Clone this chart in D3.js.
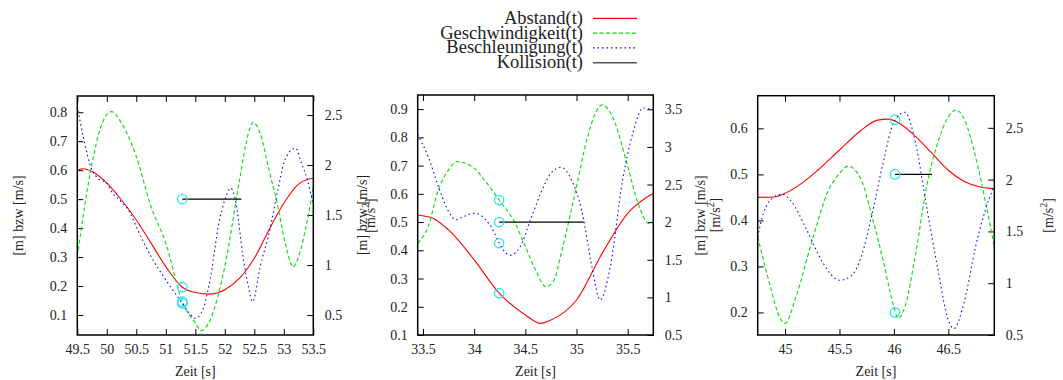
<!DOCTYPE html>
<html><head><meta charset="utf-8">
<script src="https://cdn.jsdelivr.net/npm/d3@7"></script>
<style>
body{margin:0;background:#fff}
svg text{font-family:'Liberation Serif','Times New Roman',serif;fill:#222}
</style></head><body>
<svg id="c" width="1063" height="380"></svg>
<script>
// ---------- data ----------
const seriesNames = ["Abstand(t)","Geschwindigkeit(t)","Beschleunigung(t)","Kollision(t)"];
const xLabel = "Zeit [s]";
const yLabel = "[m] bzw [m/s]";

// panel 1
const p1XTicks = [49.5,50,50.5,51,51.5,52,52.5,53,53.5];
const p1YTicks = [0.1,0.2,0.3,0.4,0.5,0.6,0.7,0.8];
const p1Y2Ticks = [0.5,1,1.5,2,2.5];
const p1Abstand = [[49.5,0.6],[49.6,0.605],[49.75,0.595],[50,0.555],[50.25,0.497],[50.5,0.428],[50.75,0.348],[51,0.267],[51.28,0.196],[51.5,0.178],[51.75,0.172],[52,0.187],[52.25,0.227],[52.5,0.296],[52.75,0.394],[53,0.486],[53.25,0.552],[53.4,0.568],[53.5,0.571]];
const p1Geschw = [[49.5,0.302],[49.75,0.624],[49.9,0.75],[50.08,0.802],[50.25,0.762],[50.5,0.647],[50.75,0.474],[51,0.348],[51.28,0.146],[51.5,0.072],[51.6,0.046],[51.75,0.083],[52,0.267],[52.25,0.566],[52.4,0.727],[52.48,0.765],[52.6,0.727],[52.75,0.6],[52.9,0.474],[53,0.37],[53.1,0.29],[53.15,0.265],[53.25,0.302],[53.4,0.428],[53.5,0.543]];
const p1Beschl = [[49.5,0.82],[49.6,0.716],[49.75,0.6],[49.85,0.572],[50,0.555],[50.1,0.52],[50.25,0.49],[50.4,0.45],[50.5,0.405],[50.75,0.302],[51,0.221],[51.28,0.14],[51.4,0.106],[51.5,0.089],[51.6,0.106],[51.75,0.221],[51.9,0.417],[52,0.497],[52.1,0.538],[52.2,0.474],[52.3,0.314],[52.4,0.198],[52.47,0.146],[52.6,0.267],[52.75,0.382],[52.9,0.532],[53,0.624],[53.1,0.664],[53.2,0.676],[53.3,0.624],[53.4,0.566],[53.5,0.48]];
const p1Kollision = [[51.28,0.5],[52.28,0.5]];
const p1Hits = [[51.28,0.5],[51.28,0.196],[51.28,0.146],[51.28,0.14]];

// panel 2
const p2XTicks = [33.5,34,34.5,35,35.5];
const p2YTicks = [0.1,0.2,0.3,0.4,0.5,0.6,0.7,0.8,0.9];
const p2Y2Ticks = [0.5,1,1.5,2,2.5,3,3.5];
const p2Abstand = [[33.448,0.525],[33.6,0.513],[33.75,0.472],[34,0.366],[34.244,0.248],[34.5,0.171],[34.65,0.141],[34.75,0.153],[35,0.224],[35.25,0.389],[35.5,0.531],[35.75,0.602]];
const p2Geschw = [[33.448,0.425],[33.55,0.484],[33.65,0.614],[33.75,0.685],[33.83,0.714],[34,0.691],[34.1,0.649],[34.244,0.578],[34.4,0.496],[34.5,0.413],[34.6,0.33],[34.7,0.271],[34.78,0.295],[34.85,0.389],[35,0.626],[35.1,0.791],[35.25,0.915],[35.35,0.874],[35.5,0.697],[35.6,0.567],[35.7,0.496],[35.75,0.494]];
const p2Beschl = [[33.448,0.809],[33.55,0.732],[33.65,0.626],[33.75,0.537],[33.82,0.508],[33.9,0.52],[34,0.531],[34.1,0.513],[34.2,0.46],[34.244,0.425],[34.35,0.383],[34.45,0.413],[34.55,0.508],[34.65,0.602],[34.75,0.673],[34.85,0.694],[34.95,0.649],[35.05,0.543],[35.15,0.342],[35.23,0.224],[35.33,0.342],[35.45,0.649],[35.55,0.815],[35.65,0.904],[35.75,0.898]];
const p2Kollision = [[34.244,0.5],[35.07,0.5]];
const p2Hits = [[34.244,0.578],[34.244,0.5],[34.244,0.425],[34.244,0.248]];

// panel 3
const p3XTicks = [45,45.5,46,46.5];
const p3YTicks = [0.2,0.3,0.4,0.5,0.6];
const p3Y2Ticks = [0.5,1,1.5,2,2.5];
const p3Abstand = [[44.749,0.45],[44.9,0.451],[45,0.459],[45.15,0.48],[45.3,0.509],[45.5,0.553],[45.7,0.596],[45.85,0.618],[45.95,0.62],[46.05,0.611],[46.2,0.582],[46.35,0.546],[46.5,0.509],[46.65,0.484],[46.8,0.472],[46.922,0.469]];
const p3Geschw = [[44.749,0.364],[44.85,0.27],[44.95,0.19],[45,0.176],[45.1,0.234],[45.25,0.357],[45.4,0.466],[45.5,0.502],[45.58,0.518],[45.7,0.488],[45.8,0.408],[45.9,0.314],[46,0.212],[46.04,0.187],[46.1,0.212],[46.2,0.328],[46.3,0.473],[46.4,0.567],[46.5,0.625],[46.57,0.64],[46.65,0.618],[46.75,0.538],[46.85,0.43],[46.922,0.343]];
const p3Beschl = [[44.749,0.364],[44.8,0.415],[44.9,0.451],[44.97,0.457],[45.05,0.444],[45.2,0.379],[45.35,0.307],[45.5,0.27],[45.6,0.278],[45.7,0.321],[45.8,0.415],[45.9,0.524],[46,0.614],[46.1,0.635],[46.2,0.567],[46.3,0.43],[46.4,0.299],[46.5,0.183],[46.55,0.165],[46.65,0.227],[46.75,0.343],[46.85,0.43],[46.922,0.475]];
const p3Kollision = [[46.01,0.5],[46.35,0.5]];
const p3Hits = [[46.01,0.619],[46.01,0.5],[46.01,0.2]];

// ---------- layout ----------
const panels = [
  {x0:77.3,x1:313.3,top:96,bottom:335,xd:[49.5,53.5],yd:[0.031,0.856],y2d:[0.3,2.69],xt:p1XTicks,yt:p1YTicks,y2t:p1Y2Ticks,
   s:[p1Abstand,p1Geschw,p1Beschl,p1Kollision],hits:p1Hits,ylx:18,y2lx:372},
  {x0:417.7,x1:653.3,top:95,bottom:335,xd:[33.448,35.75],yd:[0.1,0.95],y2d:[0.5,3.69],xt:p2XTicks,yt:p2YTicks,y2t:p2Y2Ticks,
   s:[p2Abstand,p2Geschw,p2Beschl,p2Kollision],hits:p2Hits,ylx:362,y2lx:717},
  {x0:757.7,x1:994.3,top:95.7,bottom:335,xd:[44.749,46.922],yd:[0.151,0.671],y2d:[0.5,2.81],xt:p3XTicks,yt:p3YTicks,y2t:p3Y2Ticks,
   s:[p3Abstand,p3Geschw,p3Beschl,p3Kollision],hits:p3Hits,ylx:700,y2lx:1050}
];
const styles = [
  {c:"#ff0000",d:null},
  {c:"#00e000",d:"4,2.5"},
  {c:"#0000ff",d:"1.5,3"},
  {c:"#000000",d:null}
];
const SERIF = "'Liberation Serif','Times New Roman',serif";

const svg = d3.select("#c");
svg.append("rect").attr("width",1063).attr("height",380).attr("fill","#fff");

panels.forEach((p,i)=>{
  const x = d3.scaleLinear().domain(p.xd).range([p.x0,p.x1]);
  const y = d3.scaleLinear().domain(p.yd).range([p.bottom,p.top]);
  const y2 = d3.scaleLinear().domain(p.y2d).range([p.bottom,p.top]);
  const g = svg.append("g");
  const cid = "clip"+i;
  svg.append("clipPath").attr("id",cid).append("rect")
    .attr("x",p.x0).attr("y",p.top).attr("width",p.x1-p.x0).attr("height",p.bottom-p.top);

  const fmt = d=>String(d);
  const ax = g.append("g").attr("transform",`translate(0,${p.bottom})`)
    .call(d3.axisBottom(x).tickValues(p.xt).tickFormat(fmt).tickSizeInner(-6).tickSizeOuter(0).tickPadding(9));
  const axt = g.append("g").attr("transform",`translate(0,${p.top})`)
    .call(d3.axisTop(x).tickValues(p.xt).tickFormat("").tickSizeInner(-6).tickSizeOuter(0));
  const ay = g.append("g").attr("transform",`translate(${p.x0},0)`)
    .call(d3.axisLeft(y).tickValues(p.yt).tickFormat(fmt).tickSizeInner(-6).tickSizeOuter(0).tickPadding(10));
  const ay2 = g.append("g").attr("transform",`translate(${p.x1},0)`)
    .call(d3.axisRight(y2).tickValues(p.y2t).tickFormat(fmt).tickSizeInner(-6).tickSizeOuter(0).tickPadding(11.5));
  [ax,axt,ay,ay2].forEach(a=>{
    a.attr("font-family",null).attr("font-size",null);
    a.select(".domain").remove();
    a.selectAll("line").attr("stroke","#000").attr("stroke-width",1);
    a.selectAll("text").style("font-family",SERIF).style("font-size","14px").attr("fill","#222");
  });

  const line = d3.line().x(d=>x(d[0])).y(d=>y(d[1])).curve(d3.curveMonotoneX);
  const pg = g.append("g").attr("clip-path",`url(#${cid})`);
  p.s.forEach((data,k)=>{
    pg.append("path").datum(data).attr("d",line).attr("fill","none")
      .attr("stroke",styles[k].c).attr("stroke-width",k===3?1.3:1.1)
      .attr("stroke-dasharray",styles[k].d);
  });
  pg.selectAll("circle").data(p.hits).join("circle")
    .attr("cx",d=>x(d[0])).attr("cy",d=>y(d[1])).attr("r",4.7)
    .attr("fill","none").attr("stroke","#22e5f0").attr("stroke-width",1.3);

  g.append("rect").attr("x",p.x0).attr("y",p.top).attr("width",p.x1-p.x0).attr("height",p.bottom-p.top)
    .attr("fill","none").attr("stroke","#000").attr("stroke-width",1.5);

  g.append("text").attr("x",(p.x0+p.x1)/2).attr("y",376).attr("text-anchor","middle")
    .style("font-family",SERIF).style("font-size","14px").text(xLabel);
  const cy = (p.top+p.bottom)/2;
  g.append("text").attr("transform",`translate(${p.ylx},${cy}) rotate(-90)`)
    .attr("text-anchor","middle").attr("dominant-baseline","central")
    .style("font-family",SERIF).style("font-size","14px").text(yLabel);
  const t2 = g.append("text").attr("transform",`translate(${p.y2lx+3},${cy}) rotate(-90)`)
    .attr("text-anchor","middle").style("font-family",SERIF).style("font-size","14px");
  t2.append("tspan").text("[m/s");
  t2.append("tspan").attr("dy",-6).style("font-size","10px").text("2");
  t2.append("tspan").attr("dy",6).text("]");
});

const lg = svg.append("g");
seriesNames.forEach((n,k)=>{
  const yy = 18.3 + k*14.8;
  lg.append("text").attr("x",583).attr("y",yy+5.5).attr("text-anchor","end")
    .style("font-family",SERIF).style("font-size","18.5px").text(n);
  lg.append("line").attr("x1",593).attr("x2",637).attr("y1",yy).attr("y2",yy)
    .attr("stroke",k===3?"#555":styles[k].c).attr("stroke-width",k===3?1.6:1.2)
    .attr("stroke-dasharray",styles[k].d);
});
</script>
</body></html>
